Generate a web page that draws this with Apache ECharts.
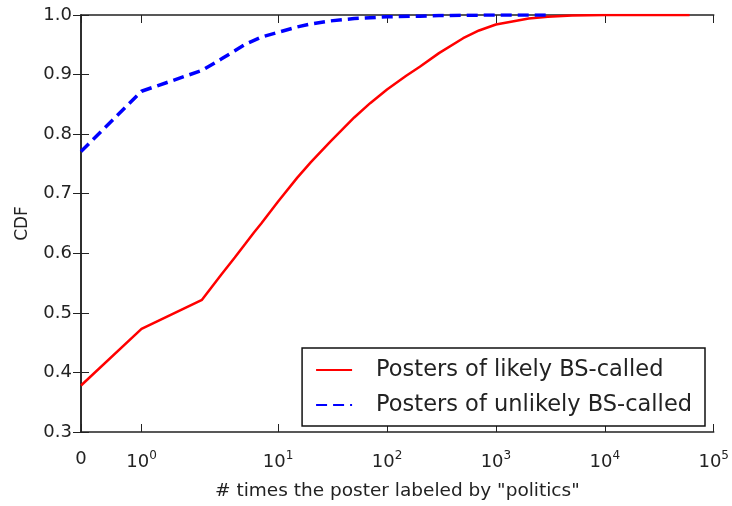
<!DOCTYPE html>
<html>
<head>
<meta charset="utf-8">
<script src="https://cdn.jsdelivr.net/npm/echarts@6/dist/echarts.min.js"></script>
<style>
  html, body { margin: 0; padding: 0; background: #fff; }
  #chart { width: 732px; height: 506px; }
</style>
</head>
<body>
<div id="chart"></div>
<script>
  // counts (x) and CDF values
  var xLikely = [0, 1, 2, 3, 4, 5, 6, 7, 8, 10, 15, 20, 30, 50, 70, 100, 150, 200, 300, 500, 700, 1000, 1500, 2000, 3000, 5000, 10000, 60000];
  var cdfLikely = [0.378, 0.473, 0.522, 0.564, 0.593, 0.616, 0.635, 0.650, 0.664, 0.687, 0.727, 0.753, 0.787, 0.828, 0.852, 0.875, 0.898, 0.913, 0.936, 0.961, 0.974, 0.984, 0.990, 0.994, 0.997, 0.999, 1.0, 1.0];
  var xUnlikely = [0, 1, 2, 3, 4, 5, 7, 10, 15, 20, 30, 50, 100, 200, 300, 500, 1000, 3000];
  var cdfUnlikely = [0.771, 0.872, 0.907, 0.926, 0.940, 0.951, 0.963, 0.971, 0.980, 0.985, 0.990, 0.994, 0.997, 0.998, 0.999, 0.9995, 1.0, 1.0];
  var xTicks = [0, 1, 10, 100, 1000, 10000, 100000];
  var xTickLabels = ['0', '10{sup|0}', '10{sup|1}', '10{sup|2}', '10{sup|3}', '10{sup|4}', '10{sup|5}'];
  var seriesNames = ['Posters of likely BS-called', 'Posters of unlikely BS-called'];

  // symlog scale like matplotlib (linthresh 2, linscale 1)
  function symlog(v) {
    var lt = 2, ls = 1 / (1 - 1 / 10);
    return v <= lt ? v * ls : lt * (ls + Math.log10(v / lt));
  }

  function pairs(xs, ys) {
    return xs.map(function (x, i) { return [symlog(x), ys[i]]; });
  }

  var tickPos = xTicks.map(symlog);
  var txt = '#222';
  var font = 'DejaVu Sans';

  function xLabel(v) {
    for (var i = 0; i < tickPos.length; i++) {
      if (Math.abs(tickPos[i] - v) < 1e-6) return xTickLabels[i];
    }
    return '';
  }

  var chart = echarts.init(document.getElementById('chart'));
  chart.setOption({
    animation: false,
    backgroundColor: '#fff',
    grid: { left: 81, right: 16, top: 15, bottom: 69 },
    xAxis: [{
      type: 'value',
      min: 0,
      max: symlog(100000),
      position: 'bottom',
      name: '# times the poster labeled by "politics"',
      nameLocation: 'middle',
      nameGap: 50,
      nameTextStyle: { fontSize: 18.5, color: txt, fontFamily: font },
      splitLine: { show: false },
      axisLine: { lineStyle: { color: txt, width: 1.5 } },
      axisTick: { inside: true, length: 8, customValues: tickPos, lineStyle: { color: txt } },
      axisLabel: {
        customValues: tickPos,
        formatter: xLabel,
        margin: 18,
        color: txt,
        fontFamily: font,
        fontSize: 18,
        rich: {
          sup: { fontSize: 12, fontFamily: font, color: txt, padding: [0, 0, 12, 0] }
        }
      }
    }, {
      type: 'value',
      min: 0,
      max: symlog(100000),
      position: 'top',
      splitLine: { show: false },
      axisLine: { lineStyle: { color: txt, width: 1.5 } },
      axisTick: { inside: true, length: 8, customValues: tickPos, lineStyle: { color: txt } },
      axisLabel: { show: false }
    }],
    yAxis: [{
      type: 'value',
      min: 0.3,
      max: 1.0,
      interval: 0.1,
      position: 'left',
      name: 'CDF',
      nameLocation: 'middle',
      nameGap: 50,
      nameTextStyle: { fontSize: 17, color: txt, fontFamily: font },
      splitLine: { show: false },
      axisLine: { show: true, lineStyle: { color: txt, width: 1.5 } },
      axisTick: { show: true, inside: true, length: 8, lineStyle: { color: txt } },
      axisLabel: {
        color: txt, fontFamily: font, fontSize: 18, margin: 9,
        formatter: function (v) { return v.toFixed(1); }
      }
    }, {
      type: 'value',
      min: 0.3,
      max: 1.0,
      interval: 0.1,
      position: 'right',
      splitLine: { show: false },
      axisLine: { show: true, lineStyle: { color: txt, width: 1.5 } },
      axisTick: { show: true, inside: true, length: 8, lineStyle: { color: txt } },
      axisLabel: { show: false }
    }],
    legend: {
      orient: 'vertical',
      right: 27,
      bottom: 80,
      backgroundColor: '#fff',
      borderColor: '#111',
      borderWidth: 1.5,
      borderRadius: 0,
      padding: [10, 13, 9, 13],
      itemWidth: 36,
      itemHeight: 14,
      itemGap: 11,
      itemStyle: { opacity: 0 },
      textStyle: { fontSize: 22.5, lineHeight: 24, color: txt, fontFamily: font, padding: [0, 0, 0, 19] },
      data: seriesNames
    },
    series: [{
      name: seriesNames[0],
      type: 'line',
      symbol: 'none',
      data: pairs(xLikely, cdfLikely),
      lineStyle: { color: '#ff0000', width: 2.5 },
      itemStyle: { color: '#ff0000' }
    }, {
      name: seriesNames[1],
      type: 'line',
      symbol: 'none',
      data: pairs(xUnlikely, cdfUnlikely),
      lineStyle: { color: '#0000ff', width: 3.5, type: [11, 6] },
      itemStyle: { color: '#0000ff' }
    }]
  });
</script>
</body>
</html>
